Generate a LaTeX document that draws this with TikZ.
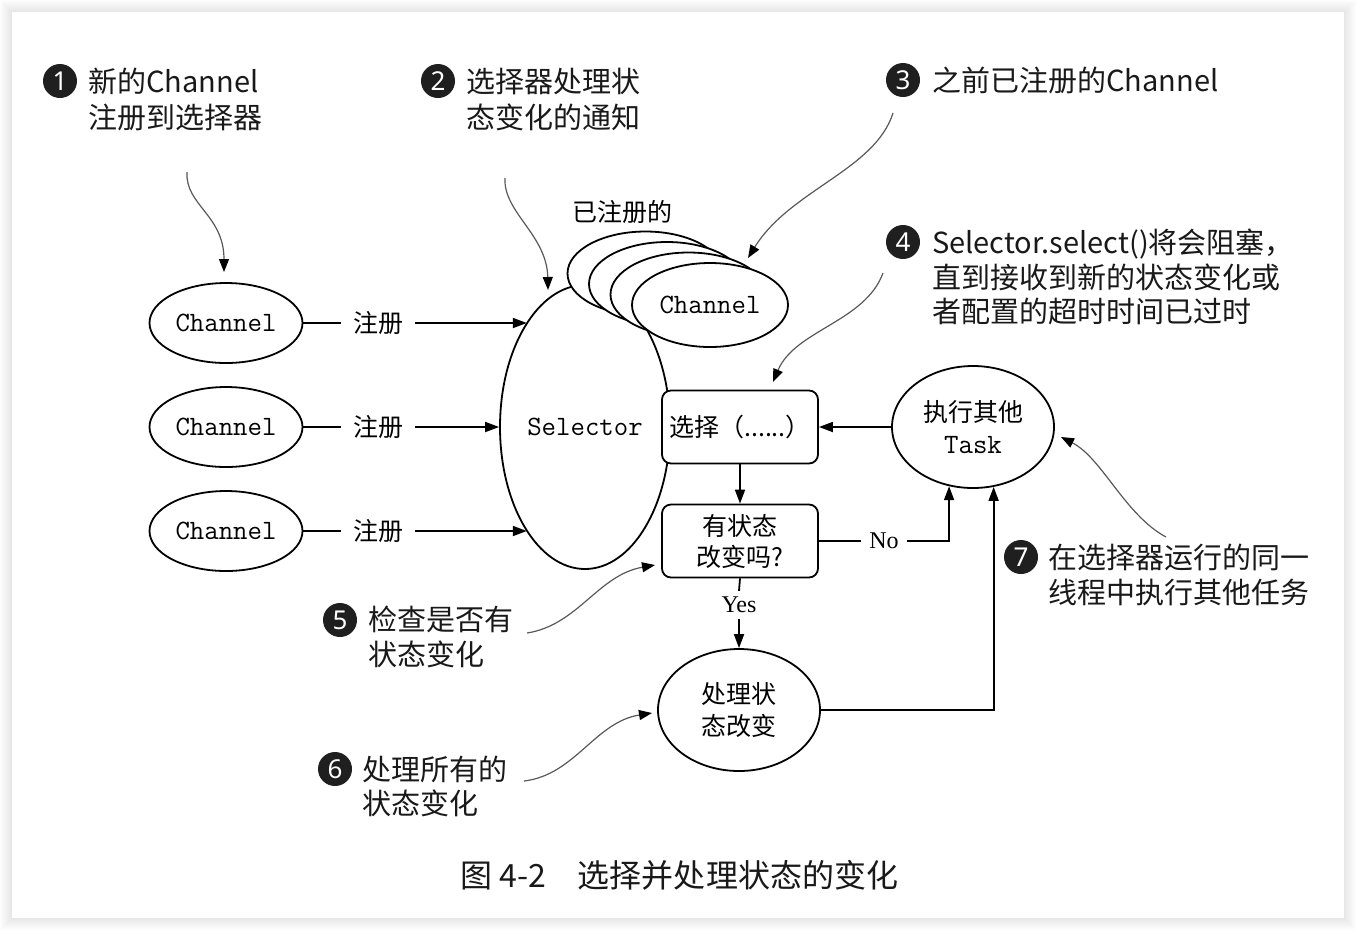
\documentclass[tikz,border=0pt]{standalone}
\usepackage{fontspec}
\usetikzlibrary{arrows.meta,shapes.geometric}
\newfontfamily\cjk{Noto Sans CJK SC}
\newfontfamily\serifen{Liberation Serif}
\newfontfamily\numfont{Noto Sans}
\begin{document}
\begin{tikzpicture}[x=1pt,y=-1pt,
  every node/.style={inner sep=0pt},
  chan/.style={ellipse, draw, line width=1.8pt, fill=white, minimum width=153pt, minimum height=80pt, font=\ttfamily\fontsize{28}{30}\selectfont},
  flowbox/.style={draw, rounded corners=9pt, line width=1.8pt, fill=white, minimum width=156pt, minimum height=73pt, font=\cjk\fontsize{25}{31}\selectfont, align=center},
  oval/.style={ellipse, draw, line width=1.8pt, fill=white, minimum width=162pt, minimum height=122pt, font=\cjk\fontsize{25}{32}\selectfont, align=center},
  reglab/.style={font=\cjk\fontsize{25}{25}\selectfont, inner xsep=12pt},
  enlab/.style={font=\serifen\fontsize{24}{24}\selectfont, inner xsep=8pt, minimum height=28pt},
  arr/.style={-{Triangle[length=14pt,width=10pt]}, line width=1.8pt},
  notearr/.style={-{Triangle[length=13pt,width=10pt,color=black]}, line width=1.2pt, draw=black!65},
  numc/.style={circle, fill=black!88, text=white, minimum size=34pt, font=\numfont\fontsize{26}{26}\selectfont},
  annot/.style={anchor=base west, font=\cjk\fontsize{29}{29}\selectfont, text=black!90}
]
% background card with soft shadow
\path[use as bounding box] (0,0) rectangle (1356,930);
\fill[white] (0,0) rectangle (1356,930);
\foreach \i in {1,...,12} \fill[black,opacity=0.007] ({12-\i},{12-\i}) rectangle ({1344+\i},{918+\i});
\fill[white] (12,12) rectangle (1344,918);

% channels
\node[chan] (c1) at (226,323) {Channel};
\node[chan] (c2) at (226,427) {Channel};
\node[chan] (c3) at (226,531) {Channel};
\node[reglab] (r1) at (378,323) {注册};
\node[reglab] (r2) at (378,427) {注册};
\node[reglab] (r3) at (378,531) {注册};

% selector
\node[ellipse, draw, line width=1.8pt, minimum width=170pt, minimum height=284pt, font=\ttfamily\fontsize{28}{30}\selectfont] (sel) at (585,427) {Selector};

% stacked registered channels
\node[chan, minimum width=156pt, minimum height=84pt] (s4) at (645.5,273.5) {};
\node[chan, minimum width=156pt, minimum height=84pt] (s3) at (667,284) {};
\node[chan, minimum width=156pt, minimum height=84pt] (s2) at (688.5,294.5) {};
\node[chan, minimum width=156pt, minimum height=84pt] (s1) at (710,305) {Channel};
\node[font=\cjk\fontsize{25}{25}\selectfont] (reg) at (622,212) {已注册的};

% flow
\node[flowbox] (selbox) at (740,427) {选择（......）};
\node[flowbox] (dec) at (740,541) {有状态\\改变吗?};
\node[oval] (proc) at (739,710) {处理状\\态改变};
\node[oval] (task) at (973,427) {执行其他\\{\ttfamily\fontsize{28}{30}\selectfont Task}};
\node[enlab] (no) at (884,541) {No};
\node[enlab] (yes) at (739,605) {Yes};

% connectors
\draw[line width=1.8pt] (c1.east) -- (r1.west);
\draw[line width=1.8pt] (c2.east) -- (r2.west);
\draw[line width=1.8pt] (c3.east) -- (r3.west);
\draw[arr] (r1.east) -- (r1.east -| sel.119);
\draw[arr] (r2.east) -- (sel.west);
\draw[arr] (r3.east) -- (r3.east -| sel.241);
\draw[arr] (task.west) -- (selbox.east);
\draw[arr] (selbox.south) -- (dec.north);
\draw[line width=1.8pt] (dec.south) -- (yes.north);
\draw[arr] (yes.south) -- (proc.north);
\draw[line width=1.8pt] (dec.east) -- (no.west);
\draw[arr] (no.east) -| (task.248);
\draw[arr] (proc.east) -| (task.289);

% annotations
\node[numc] (n1) at (60,81) {1};
\node[annot] (t1a) at (88,92) {新的Channel};
\node[annot] (t1b) at (88,128) {注册到选择器};
\node[numc] (n2) at (438,81) {2};
\node[annot] (t2a) at (466,92) {选择器处理状};
\node[annot] (t2b) at (466,128) {态变化的通知};
\node[numc] (n3) at (903,80) {3};
\node[annot] (t3a) at (932,91) {之前已注册的Channel};
\node[numc] (n4) at (903,242) {4};
\node[annot] (t4a) at (932,253) {Selector.select()将会阻塞，};
\node[annot] (t4b) at (932,288) {直到接收到新的状态变化或};
\node[annot] (t4c) at (932,322) {者配置的超时时间已过时};
\node[numc] (n5) at (340,620) {5};
\node[annot] (t5a) at (368,630) {检查是否有};
\node[annot] (t5b) at (368,665) {状态变化};
\node[numc] (n6) at (335,769) {6};
\node[annot] (t6a) at (362,780) {处理所有的};
\node[annot] (t6b) at (362,814) {状态变化};
\node[numc] (n7) at (1021,557) {7};
\node[annot] (t7a) at (1048,568) {在选择器运行的同一};
\node[annot] (t7b) at (1048,603) {线程中执行其他任务};

% annotation curves
\coordinate (a1s) at (187,172); \coordinate (a1e) at (224,272);
\coordinate (a2s) at (505,178); \coordinate (a2e) at (548,290);
\coordinate (a3s) at (893,113); \coordinate (a3e) at (748,258);
\coordinate (a4s) at (883,273); \coordinate (a4e) at (773,382);
\coordinate (a5s) at (527,633); \coordinate (a5e) at (655,565);
\coordinate (a6s) at (524,781); \coordinate (a6e) at (652,713);
\coordinate (a7s) at (1166,537); \coordinate (a7e) at (1061,437);
\draw[notearr] (a1s) .. controls (185,205) and (224,215) .. (a1e);
\draw[notearr] (a2s) .. controls (503,212) and (547,235) .. (a2e);
\draw[notearr] (a3s) .. controls (875,170) and (790,190) .. (a3e);
\draw[notearr] (a4s) .. controls (865,322) and (795,330) .. (a4e);
\draw[notearr] (a5s) .. controls (578,625) and (598,575) .. (a5e);
\draw[notearr] (a6s) .. controls (575,775) and (595,722) .. (a6e);
\draw[notearr] (a7s) .. controls (1125,515) and (1102,458) .. (a7e);

% caption
\node[anchor=base west, font=\cjk\fontsize{32}{32}\selectfont, text=black!90] (cap) at (460,887) {图 4-2　选择并处理状态的变化};
\end{tikzpicture}
\end{document}
